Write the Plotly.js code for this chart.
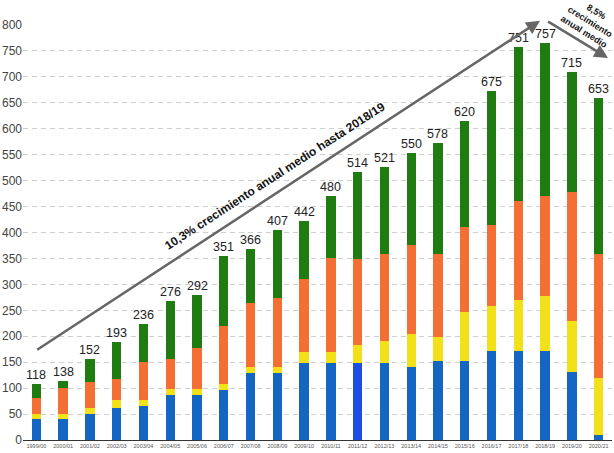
<!DOCTYPE html>
<html>
<head>
<meta charset="utf-8">
<script src="https://cdn.plot.ly/plotly-3.0.1.min.js"></script>
<style>html,body{margin:0;padding:0;background:#fff;}#chart{width:614px;height:453px;}</style>
</head>
<body>
<div id="chart"></div>
<script>
var categories = ["1999/00","2000/01","2001/02","2002/03","2003/04","2004/05","2005/06","2006/07","2007/08","2008/09","2009/10","2010/11","2011/12","2012/13","2013/14","2014/15","2015/16","2016/17","2017/18","2018/19","2019/20","2020/21"];
var blueVals   = [40,40,50,61,65,87,87,96,129,129,149,149,149,149,140,152,152,172,172,172,132,10];
var yellowVals = [10,10,11,16,12,12,12,11,12,12,21,21,35,41,65,46,94,87,97,105,97,109];
var orangeVals = [31,50,50,41,74,57,79,112,123,132,141,181,165,168,171,160,164,155,191,194,250,239];
var greenVals  = [26,14,45,70,72,112,102,136,104,132,111,120,167,168,178,214,204,258,297,294,231,301];
var totalLabels = ["118","138","152","193","236","276","292","351","366","407","442","480","514","521","550","578","620","675","751","757","715","653"];
var yTicks = [0,50,100,150,200,250,300,350,400,450,500,550,600,650,700,750,800];

var W = 614, H = 453, mL = 23, mR = 2, mT = 25, mB = 13;
var pW = W - mL - mR, pH = H - mT - mB;
function px(x){ return (x - mL) / pW; }
function py(y){ return (H - mB - y) / pH; }

var blueColors = blueVals.map(function(v,i){ return i === 12 ? "#1b4fe2" : "#1566c3"; });

var traces = [
  {type:"bar", x:categories, y:blueVals, marker:{color:blueColors}, hoverinfo:"none"},
  {type:"bar", x:categories, y:yellowVals, marker:{color:"#f2e119"}, hoverinfo:"none"},
  {type:"bar", x:categories, y:orangeVals, marker:{color:"#f36f33"}, hoverinfo:"none"},
  {type:"bar", x:categories, y:greenVals, marker:{color:"#1f7c10"}, hoverinfo:"none"}
];

var annotations = categories.map(function(c,i){
  return {x:c, y:blueVals[i]+yellowVals[i]+orangeVals[i]+greenVals[i], xref:"x", yref:"y",
    text:totalLabels[i], showarrow:false, yanchor:"bottom", yshift:0,
    font:{family:"Liberation Sans, Arial, sans-serif", size:12.5, color:"#222"}};
});

annotations.push({xref:"paper", yref:"paper", x:px(540), y:py(20.7), ax:35.7-540, ay:350.7-20.7,
  text:"", showarrow:true, arrowhead:2, arrowsize:1.1, arrowwidth:2.5, arrowcolor:"#666"});
annotations.push({xref:"paper", yref:"paper", x:px(608), y:py(58), ax:546.7-608, ay:20.7-58,
  text:"", showarrow:true, arrowhead:2, arrowsize:1.1, arrowwidth:2.5, arrowcolor:"#666"});
annotations.push({xref:"paper", yref:"paper", x:px(275), y:py(176), xanchor:"center", yanchor:"middle",
  text:"<b>10,3% crecimiento anual medio hasta 2018/19</b>", textangle:-33, showarrow:false,
  font:{family:"Liberation Sans, Arial, sans-serif", size:12, color:"#111"}});
annotations.push({xref:"paper", yref:"paper", x:px(590), y:py(21.5), xanchor:"center", yanchor:"middle",
  text:"<b>8,5%<br>crecimiento<br>anual medio</b>", textangle:32, showarrow:false, borderpad:0,
  font:{family:"Liberation Sans, Arial, sans-serif", size:9, color:"#111"}});

var layout = {
  width:W, height:H, barmode:"stack", bargap:0.65, showlegend:false,
  margin:{l:mL, r:mR, t:mT, b:mB, pad:0},
  paper_bgcolor:"#fff", plot_bgcolor:"#fff",
  xaxis:{type:"category", showgrid:false, showline:true, linecolor:"#333", linewidth:1,
    tickfont:{family:"Liberation Sans, Arial, sans-serif", size:5.5, color:"#555"}, tickangle:0,
    ticks:"", automargin:false, fixedrange:true},
  yaxis:{range:[0,800], tickvals:yTicks, showgrid:true, gridcolor:"#cfcfcf", griddash:"5px,4px", gridwidth:1,
    zeroline:false, showline:false, ticks:"", automargin:false,
    tickfont:{family:"Liberation Sans, Arial, sans-serif", size:12, color:"#444"}},
  annotations:annotations
};
Plotly.newPlot("chart", traces, layout, {displayModeBar:false, staticPlot:true});
</script>
</body>
</html>
